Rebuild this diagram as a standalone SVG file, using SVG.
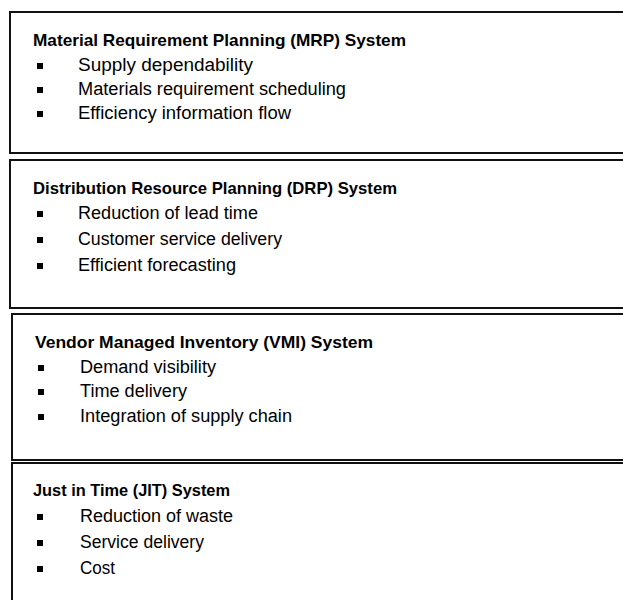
<svg xmlns="http://www.w3.org/2000/svg" width="623" height="600" viewBox="0 0 623 600">
<style>
.box{fill:#fff;stroke:#111;stroke-width:2}
.t{font-family:"Liberation Sans",Arial,sans-serif;font-weight:bold;font-size:17px;fill:#000}
.i{font-family:"Liberation Sans",Arial,sans-serif;font-size:18px;fill:#000}
.b{fill:#000}
</style>
<rect width="623" height="600" fill="#fff"/>
<defs><rect id="sq" width="6" height="6" class="b"/></defs>
<g id="mrp">
<rect class="box" x="10" y="12" width="630" height="141"/>
<text class="t" x="33" y="46" textLength="373" lengthAdjust="spacingAndGlyphs">Material Requirement Planning (MRP) System</text>
<use href="#sq" x="37" y="63"/><text class="i" x="78" y="71" textLength="175" lengthAdjust="spacingAndGlyphs">Supply dependability</text>
<use href="#sq" x="37" y="87"/><text class="i" x="78" y="95" textLength="268" lengthAdjust="spacingAndGlyphs">Materials requirement scheduling</text>
<use href="#sq" x="37" y="111"/><text class="i" x="78" y="119" textLength="213" lengthAdjust="spacingAndGlyphs">Efficiency information flow</text>
</g>
<g id="drp">
<rect class="box" x="10" y="160" width="630" height="148"/>
<text class="t" x="33" y="194" textLength="364" lengthAdjust="spacingAndGlyphs">Distribution Resource Planning (DRP) System</text>
<use href="#sq" x="37" y="211"/><text class="i" x="78" y="219" textLength="180" lengthAdjust="spacingAndGlyphs">Reduction of lead time</text>
<use href="#sq" x="37" y="237"/><text class="i" x="78" y="245" textLength="204" lengthAdjust="spacingAndGlyphs">Customer service delivery</text>
<use href="#sq" x="37" y="263"/><text class="i" x="78" y="271" textLength="158" lengthAdjust="spacingAndGlyphs">Efficient forecasting</text>
</g>
<g id="vmi">
<rect class="box" x="12" y="314" width="630" height="146"/>
<text class="t" x="35" y="348" textLength="338" lengthAdjust="spacingAndGlyphs">Vendor Managed Inventory (VMI) System</text>
<use href="#sq" x="38" y="365"/><text class="i" x="80" y="373" textLength="136" lengthAdjust="spacingAndGlyphs">Demand visibility</text>
<use href="#sq" x="38" y="389"/><text class="i" x="80" y="397" textLength="107" lengthAdjust="spacingAndGlyphs">Time delivery</text>
<use href="#sq" x="38" y="414"/><text class="i" x="80" y="422" textLength="212" lengthAdjust="spacingAndGlyphs">Integration of supply chain</text>
</g>
<g id="jit">
<rect class="box" x="12" y="463" width="630" height="150"/>
<text class="t" x="33" y="496" textLength="197" lengthAdjust="spacingAndGlyphs">Just in Time (JIT) System</text>
<use href="#sq" x="37" y="514"/><text class="i" x="80" y="522" textLength="153" lengthAdjust="spacingAndGlyphs">Reduction of waste</text>
<use href="#sq" x="37" y="540"/><text class="i" x="80" y="548" textLength="124" lengthAdjust="spacingAndGlyphs">Service delivery</text>
<use href="#sq" x="37" y="566"/><text class="i" x="80" y="574" textLength="35" lengthAdjust="spacingAndGlyphs">Cost</text>
</g>
<g id="connectors"/>
</svg>
